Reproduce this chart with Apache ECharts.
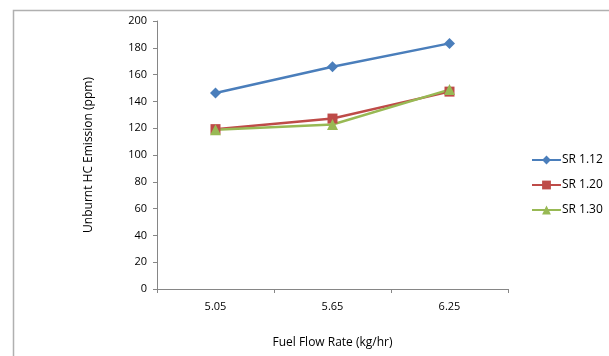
<!DOCTYPE html>
<html><head><meta charset="utf-8">
<script src="https://cdn.jsdelivr.net/npm/echarts@6/dist/echarts.min.js"></script>
<style>html,body{margin:0;padding:0;background:#fff}#c{width:609px;height:356px}</style>
</head><body><div id="c"></div>
<script>
const categories = ['5.05', '5.65', '6.25'];
const sr112 = [146.3, 165.8, 183.3];
const sr120 = [119.3, 127.2, 147.3];
const sr130 = [118.8, 122.8, 148.8];
const yTicks = [0, 20, 40, 60, 80, 100, 120, 140, 160, 180, 200];

const font = 'Open Sans, Noto Sans, sans-serif';
const chart = echarts.init(document.getElementById('c'), null, {renderer: 'canvas'});
function mk(name, data, color, symbol, size) {
  return {
    name, type: 'line', data, symbol, symbolSize: size,
    lineStyle: {color, width: 2.5}, itemStyle: {color},
    animation: false
  };
}
chart.setOption({
  animation: false,
  graphic: [{type: 'rect', shape: {x: 13.5, y: 10.5, width: 620, height: 400},
    style: {fill: 'none', stroke: '#b0b0b0', lineWidth: 1.5}, silent: true}],
  grid: {left: 157, right: 101, top: 21, bottom: 67},
  legend: {
    orient: 'vertical', left: 531, top: 154, padding: 0, itemWidth: 29, itemHeight: 11, itemGap: 13,
    textStyle: {fontFamily: font, fontSize: 12, color: '#000', padding: [0, 0, 0, -4]},
    data: ['SR 1.12', 'SR 1.20', 'SR 1.30']
  },
  xAxis: {
    type: 'category', data: categories, boundaryGap: true,
    name: 'Fuel Flow Rate (kg/hr)', nameLocation: 'middle', nameGap: 48,
    nameTextStyle: {fontFamily: font, fontSize: 12, color: '#000'},
    axisLine: {lineStyle: {color: '#868686', width: 1}},
    axisTick: {show: true, length: 4, lineStyle: {color: '#868686'}},
    axisLabel: {fontFamily: font, fontSize: 11, color: '#000', margin: 12}
  },
  yAxis: {
    type: 'value', min: yTicks[0], max: yTicks[yTicks.length - 1], interval: 20,
    name: 'Unburnt HC Emission (ppm)', nameLocation: 'middle', nameGap: 62,
    nameTextStyle: {fontFamily: font, fontSize: 12, color: '#000'},
    axisLine: {show: true, lineStyle: {color: '#868686', width: 1}},
    axisTick: {show: true, length: 4, lineStyle: {color: '#868686'}},
    splitLine: {show: false},
    axisLabel: {fontFamily: font, fontSize: 11, color: '#000', margin: 10}
  },
  series: [
    mk('SR 1.12', sr112, '#4A7EBB', 'diamond', 11),
    mk('SR 1.20', sr120, '#BE4B48', 'rect', 10),
    mk('SR 1.30', sr130, '#98B954', 'triangle', 11)
  ]
});
</script></body></html>
